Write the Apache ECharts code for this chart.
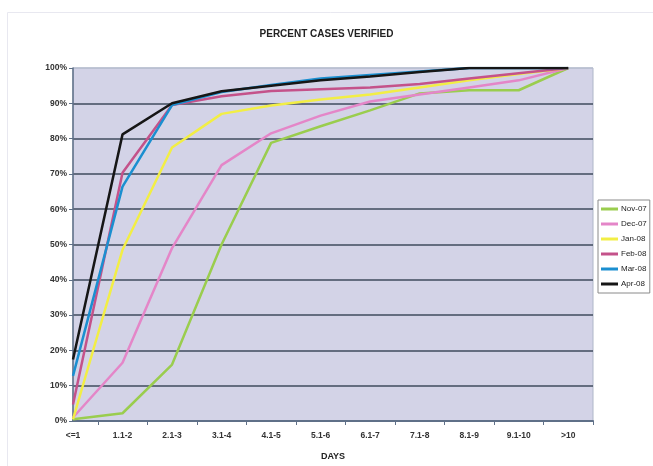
<!DOCTYPE html>
<html>
<head>
<meta charset="utf-8">
<script src="https://cdn.jsdelivr.net/npm/echarts@6/dist/echarts.min.js"></script>
<style>html,body{margin:0;padding:0;background:#fff}#c{width:653px;height:466px}</style>
</head>
<body>
<div id="c"></div>
<script>
const categories = ['<=1','1.1-2','2.1-3','3.1-4','4.1-5','5.1-6','6.1-7','7.1-8','8.1-9','9.1-10','>10'];
const yTicks = [0,10,20,30,40,50,60,70,80,90,100];
const nov07 = [0.5, 2.2, 16, 50, 78.8, 83.5, 88, 92.8, 93.7, 93.7, 100];
const dec07 = [1, 16.5, 49, 72.5, 81.5, 86.5, 90.5, 92.5, 94.5, 96.5, 100];
const jan08 = [0.5, 48.5, 77.5, 87, 89.4, 91.1, 92.5, 94.5, 96.5, 98.3, 100];
const feb08 = [4.7, 70.3, 89.5, 92, 93.5, 94, 94.5, 95.5, 97, 98.5, 100];
const mar08 = [12.8, 66.4, 89.5, 93.2, 95.2, 97, 98, 99, 100, 100, 100];
const apr08 = [17.4, 81.2, 90, 93.4, 95, 96.5, 97.6, 98.9, 100, 100, 100];
const seriesNames = ['Nov-07','Dec-07','Jan-08','Feb-08','Mar-08','Apr-08'];
const seriesValues = [nov07, dec07, jan08, feb08, mar08, apr08];
const seriesColors = ['#9acd4e','#e486c8','#f2ee45','#c4528a','#1b8fd0','#161616'];

const chart = echarts.init(document.getElementById('c'), null, {renderer:'canvas'});
const font = 'Liberation Sans, Arial, sans-serif';
const gridColors = yTicks.map((v,i)=> i === yTicks.length-1 ? '#b8bfd0' : '#3f4b5e');
chart.setOption({
  animation:false,
  backgroundColor:'#ffffff',
  graphic:[{type:'rect', shape:{x:7.5,y:12.5,width:660,height:460}, style:{fill:'none', stroke:'#e8e8f0', lineWidth:1}, silent:true, z:-10}],
  title:{text:'PERCENT CASES VERIFIED', left:'center', top:24, textStyle:{fontFamily:font, fontSize:10, fontWeight:'bold', color:'#222'}},
  grid:{left:73, right:60, top:68, bottom:44, show:true, backgroundColor:'#d3d3e7', borderColor:'#aeb6c8', borderWidth:1},
  legend:{orient:'vertical', left:598, top:200, data:seriesNames, icon:'rect', itemWidth:17, itemHeight:3, itemGap:7,
    borderColor:'#8a8a8a', borderWidth:1, padding:[5,3,5,3], backgroundColor:'#ffffff',
    textStyle:{fontFamily:font, fontSize:8, color:'#222', padding:[0,0,0,-2]}},
  xAxis:{type:'value', min:0, max:10.5, name:'DAYS', nameLocation:'middle', nameGap:31,
    nameTextStyle:{fontFamily:font, fontSize:9, fontWeight:'bold', color:'#222'},
    axisLine:{show:true, lineStyle:{color:'#5f7088', width:2}},
    axisTick:{show:true, length:4, customValues:[0.5,1.5,2.5,3.5,4.5,5.5,6.5,7.5,8.5,9.5,10.5], lineStyle:{color:'#5f7088'}},
    axisLabel:{customValues:categories.map((c,i)=>i), formatter:(v)=>categories[Math.round(v)], margin:10,
      fontFamily:font, fontSize:8.5, fontWeight:'bold', color:'#333'},
    splitLine:{show:false}},
  yAxis:{type:'value', min:0, max:100, interval:10,
    axisLine:{show:true, lineStyle:{color:'#5f7088', width:1.5}},
    axisTick:{show:true, length:4, lineStyle:{color:'#5f7088'}},
    axisLabel:{formatter:'{value}%', margin:6, fontFamily:font, fontSize:8.5, fontWeight:'bold', color:'#333'},
    splitLine:{show:true, lineStyle:{color:gridColors, width:1.6}}},
  series: seriesNames.map((n,k)=>({
    name:n, type:'line', symbol:'none', smooth:false,
    data: seriesValues[k].map((v,i)=>[i, v]),
    lineStyle:{width:2.5, color:seriesColors[k]}, itemStyle:{color:seriesColors[k]}, z:2+k
  }))
});
</script>
</body>
</html>
